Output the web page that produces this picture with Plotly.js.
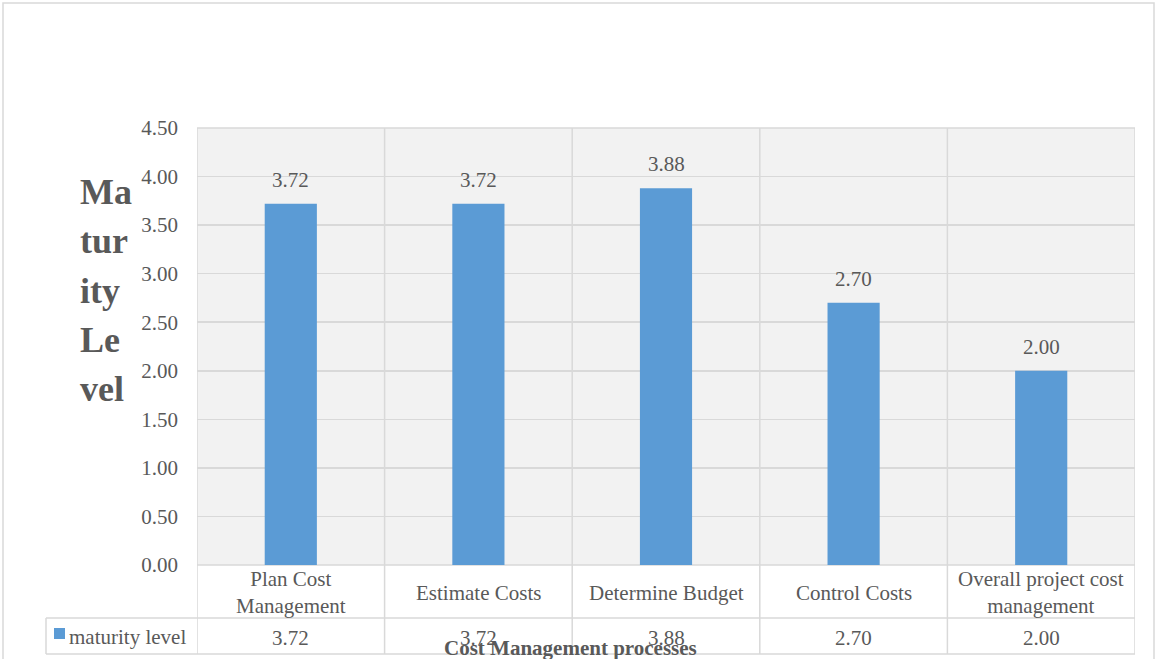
<!DOCTYPE html>
<html>
<head>
<meta charset="utf-8">
<script src="https://cdn.plot.ly/plotly-3.0.1.min.js"></script>
<style>
  html, body { margin: 0; padding: 0; background: #ffffff; }
  #chart { width: 1156px; height: 659px; }
</style>
</head>
<body>
<div id="chart"></div>
<script>
// Maturity level of each cost management process
const categories = [
  "Plan Cost Management",
  "Estimate Costs",
  "Determine Budget",
  "Control Costs",
  "Overall project cost management"
];
const categoryLabels = [
  "Plan Cost<br>Management",
  "Estimate Costs",
  "Determine Budget",
  "Control Costs",
  "Overall project cost<br>management"
];
const maturityLevel = [3.72, 3.72, 3.88, 2.70, 2.00];
const seriesName = "maturity level";
const yTickValues = [0, 0.5, 1, 1.5, 2, 2.5, 3, 3.5, 4, 4.5];
const yTitleLines = ["Ma", "tur", "ity", "Le", "vel"];
const xTitle = "Cost Management processes";

// Page geometry (pixels)
const W = 1156, H = 659;
const plotLeft = 197, plotRight = 1135, plotTop = 128, plotBottom = 565;
const row1Bottom = 618, row2Bottom = 654, tableLeft = 46;
const plotW = plotRight - plotLeft, plotH = plotBottom - plotTop;
const px = v => (v - plotLeft) / plotW;      // page x -> paper x
const py = v => (plotBottom - v) / plotH;    // page y -> paper y

const textColor = "#595959";
const gridColor = "#d9d9d9";
const barColor = "#5b9bd5";
const serif = "Liberation Serif, Times New Roman, serif";

const n = categories.length;
const shapes = [];
const line = (x0, y0, x1, y1, xref) => shapes.push({
  type: "line", xref: xref || "paper", yref: "paper",
  x0: x0, y0: y0, x1: x1, y1: y1,
  line: { color: gridColor, width: 1.5 }, layer: "below"
});

// category separators running through plot and data table
for (let i = 0; i <= n; i++) {
  line(i - 0.5, py(plotTop), i - 0.5, py(row2Bottom), "x");
}
// table rows
line(px(tableLeft), py(row1Bottom), 1, py(row1Bottom));
line(px(tableLeft), py(row2Bottom), 1, py(row2Bottom));
line(px(tableLeft), py(row1Bottom), px(tableLeft), py(row2Bottom));
line(0, 0, 1, 0);
line(0, 1, 1, 1);
// outer chart frame
shapes.push({
  type: "rect", xref: "paper", yref: "paper",
  x0: px(3), x1: px(1154), y0: py(3), y1: py(H + 5),
  line: { color: "#d9d9d9", width: 1.5 }, layer: "below"
});
// legend key in the table
shapes.push({
  type: "rect", xref: "paper", yref: "paper",
  x0: px(54), x1: px(65), y0: py(639), y1: py(628),
  fillcolor: barColor, line: { width: 0 }
});

const annotations = [];
const fontBase = { family: serif, size: 21, color: textColor };

categories.forEach((c, i) => {
  // data labels above bars
  annotations.push({
    x: i, y: maturityLevel[i], xref: "x", yref: "y",
    text: maturityLevel[i].toFixed(2), showarrow: false,
    yanchor: "middle", yshift: 24, font: fontBase
  });
  // category labels in first table row
  annotations.push({
    x: i, y: py((plotBottom + row1Bottom) / 2 + 1), xref: "x", yref: "paper",
    text: categoryLabels[i], showarrow: false, yanchor: "middle",
    font: fontBase
  });
  // values in second table row
  annotations.push({
    x: i, y: py((row1Bottom + row2Bottom) / 2 + 2), xref: "x", yref: "paper",
    text: maturityLevel[i].toFixed(2), showarrow: false, yanchor: "middle",
    font: fontBase
  });
});

// series name in the table
annotations.push({
  x: px(67), y: py(637), xref: "paper", yref: "paper",
  text: seriesName, showarrow: false, xanchor: "left", yanchor: "middle",
  font: fontBase
});

// vertical axis title, wrapped line by line
yTitleLines.forEach((t, k) => {
  annotations.push({
    x: px(78), y: py(192 + k * 49.3), xref: "paper", yref: "paper",
    text: "<b>" + t + "</b>", showarrow: false, xanchor: "left", yanchor: "middle",
    font: { family: serif, size: 36, color: textColor }
  });
});

// horizontal axis title
annotations.push({
  x: px(570), y: py(648), xref: "paper", yref: "paper",
  text: "<b>" + xTitle + "</b>", showarrow: false, yanchor: "middle",
  font: { family: serif, size: 21, color: textColor }
});

const trace = {
  type: "bar",
  x: categories.map((c, i) => i),
  y: maturityLevel,
  name: seriesName,
  marker: { color: barColor },
  width: 0.278,
  hoverinfo: "x+y"
};

const layout = {
  width: W, height: H,
  margin: { l: plotLeft, r: W - plotRight, t: plotTop, b: H - plotBottom, pad: 0 },
  paper_bgcolor: "#ffffff",
  plot_bgcolor: "#f2f2f2",
  showlegend: false,
  xaxis: {
    range: [-0.5, n - 0.5], showticklabels: false, showgrid: false,
    zeroline: false, ticks: "", fixedrange: true
  },
  yaxis: {
    range: [0, 4.5], tickvals: yTickValues,
    ticktext: yTickValues.map(v => v.toFixed(2)),
    showgrid: true, gridcolor: gridColor, gridwidth: 1.5,
    zeroline: false, ticks: "", ticklabelstandoff: 18,
    tickfont: { family: serif, size: 21, color: textColor },
    fixedrange: true
  },
  shapes: shapes,
  annotations: annotations
};

Plotly.newPlot("chart", [trace], layout, { displayModeBar: false, staticPlot: true });
</script>
</body>
</html>
